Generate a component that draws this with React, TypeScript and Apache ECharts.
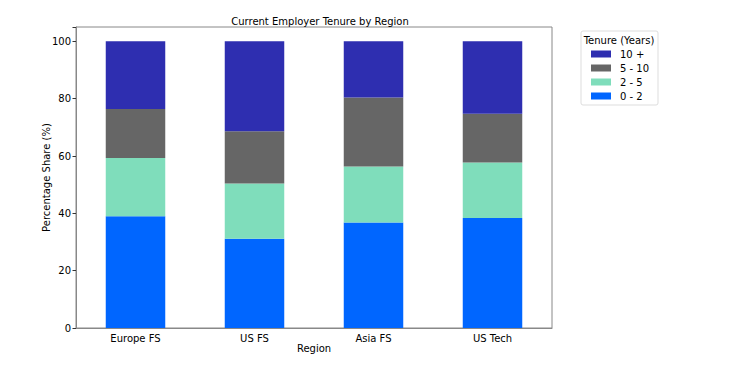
import React, { useEffect, useRef } from "react";
import * as echarts from "echarts";

const regions = ["Europe FS", "US FS", "Asia FS", "US Tech"];
const tenure0to2 = [39.0, 31.1, 36.8, 38.4];
const tenure2to5 = [20.3, 19.3, 19.5, 19.3];
const tenure5to10 = [17.1, 18.2, 24.1, 17.0];
const tenure10plus = [23.6, 31.4, 19.6, 25.3];
const seriesNames = ["0 - 2", "2 - 5", "5 - 10", "10 +"];
const seriesColors = ["#0066FF", "#7FDDBB", "#666666", "#2E2EB0"];
const legendOrder = ["10 +", "5 - 10", "2 - 5", "0 - 2"];

const FONT = "DejaVu Sans";
const FS = 10;

export default function App() {
  const ref = useRef<HTMLDivElement>(null);
  useEffect(() => {
    if (!ref.current) return;
    const chart = echarts.init(ref.current, null, { renderer: "svg" });
    const values = [tenure0to2, tenure2to5, tenure5to10, tenure10plus];
    chart.setOption({
      animation: false,
      backgroundColor: "#ffffff",
      textStyle: { fontFamily: FONT },
      title: {
        text: "Current Employer Tenure by Region",
        left: 315,
        top: 11,
        textAlign: "center",
        textStyle: { fontFamily: FONT, fontSize: FS, fontWeight: "normal", color: "#000" },
      },
      grid: {
        left: 76,
        right: 198,
        top: 27,
        bottom: 50,
        show: true,
        borderColor: "#888",
        borderWidth: 1,
        backgroundColor: "transparent",
      },
      legend: {
        data: legendOrder,
        orient: "vertical",
        left: 591,
        top: 49,
        padding: 0,
        itemWidth: 20,
        itemHeight: 7,
        itemGap: 4,
        icon: "rect",
        textStyle: { fontFamily: FONT, fontSize: FS, color: "#000", padding: [0, 0, 0, 4] },
      },
      graphic: [
        {
          type: "rect",
          shape: { x: 581, y: 31, width: 77, height: 74, r: 2 },
          style: { fill: "#fff", stroke: "#ddd", lineWidth: 1 },
          z: -1,
        },
        {
          type: "text",
          x: 619,
          y: 35,
          style: {
            text: "Tenure (Years)",
            fontFamily: FONT,
            fontSize: FS,
            fill: "#000",
            textAlign: "center",
          },
        },
      ],
      xAxis: {
        type: "category",
        data: regions,
        name: "Region",
        nameLocation: "middle",
        nameGap: 15,
        nameMoveOverlap: false,
        nameTextStyle: { fontFamily: FONT, fontSize: FS, color: "#000" },
        axisLine: { lineStyle: { color: "#888" } },
        axisTick: { alignWithLabel: true, length: 3.5, lineStyle: { color: "#333" } },
        axisLabel: { fontFamily: FONT, fontSize: FS, color: "#000", margin: 5 },
      },
      yAxis: {
        type: "value",
        min: 0,
        max: 105,
        interval: 20,
        name: "Percentage Share (%)",
        nameLocation: "middle",
        nameGap: 25,
        nameMoveOverlap: false,
        nameTextStyle: { fontFamily: FONT, fontSize: FS, color: "#000" },
        splitLine: { show: false },
        axisLine: { show: true, lineStyle: { color: "#888" } },
        axisTick: { show: true, length: 3.5, lineStyle: { color: "#333" } },
        axisLabel: {
          fontFamily: FONT,
          fontSize: FS,
          color: "#000",
          margin: 5,
          formatter: (v: number) => (v % 20 === 0 && v <= 100 ? String(v) : ""),
        },
      },
      series: seriesNames.map((name, i) => ({
        name,
        type: "bar",
        stack: "total",
        barWidth: "50%",
        data: values[i],
        itemStyle: { color: seriesColors[i] },
      })),
    });
    return () => chart.dispose();
  }, []);
  return <div ref={ref} style={{ width: 750, height: 378, margin: -8 }} />;
}
